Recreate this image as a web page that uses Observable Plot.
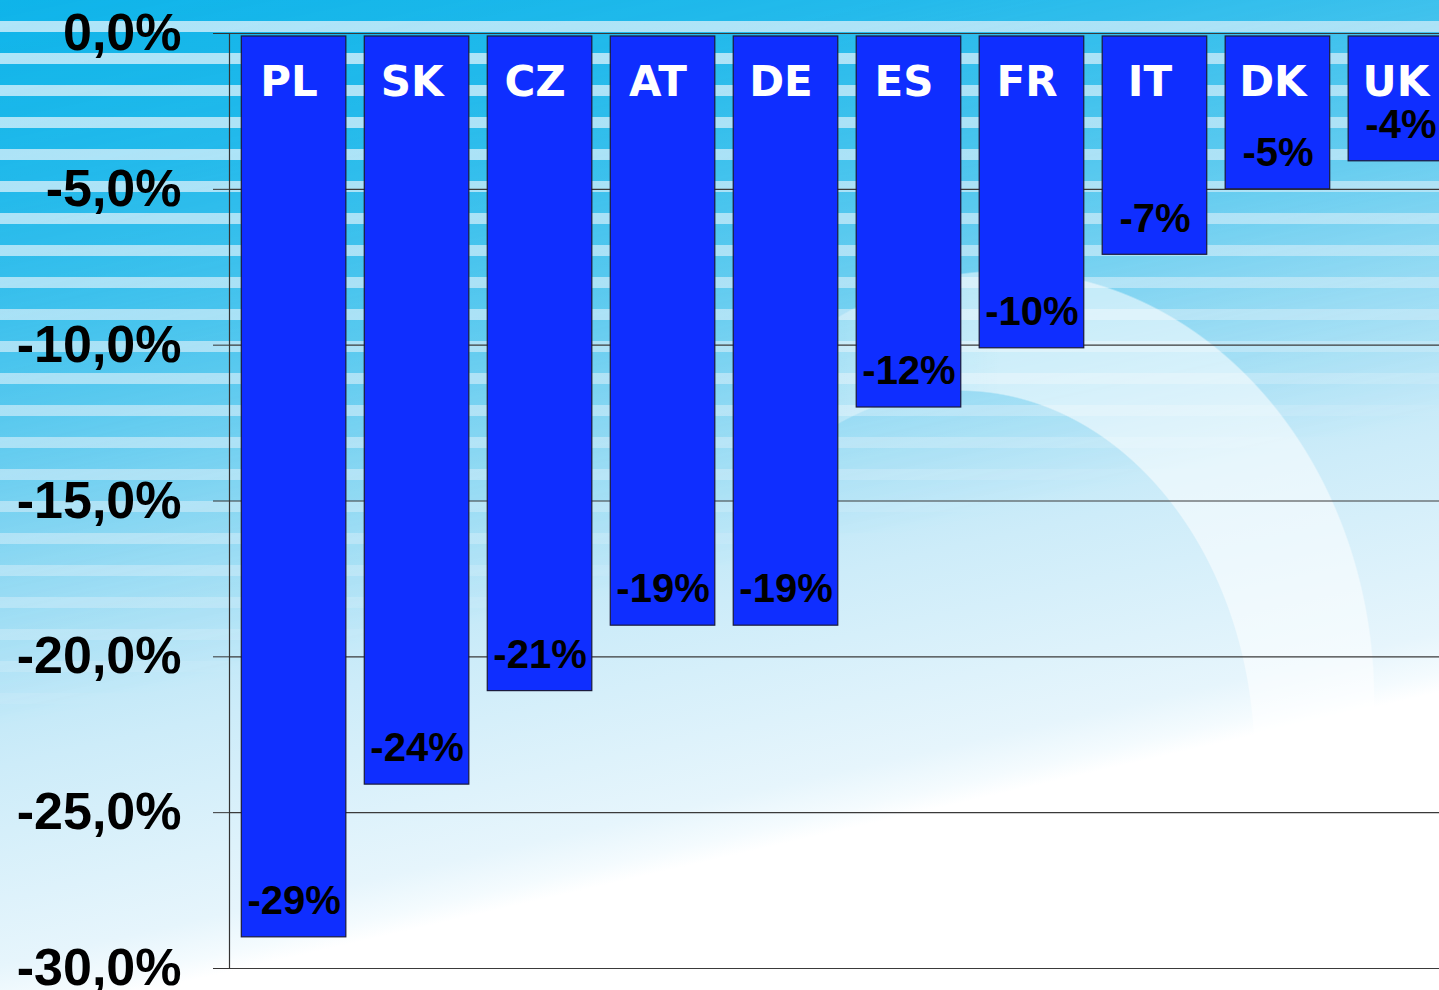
<!DOCTYPE html>
<html><head><meta charset="utf-8">
<script src="https://cdn.jsdelivr.net/npm/d3@7"></script>
<script src="https://cdn.jsdelivr.net/npm/@observablehq/plot@0.6"></script>
<style>
html,body{margin:0;padding:0;overflow:hidden;width:1439px;height:990px;background:#fff;}
#wrap{position:relative;width:1439px;height:990px;overflow:hidden;}
.layer{position:absolute;left:0;top:0;width:1439px;height:990px;}
#base{background:linear-gradient(167deg,#3cc1ee 0%,#74d0f1 22%,#a9e0f5 42%,#cdecf9 58%,#e6f5fc 73%,#f4fbfe 76%,#ffffff 77.5%,#ffffff 100%);}
#stripes{background:repeating-linear-gradient(to bottom,rgba(0,176,232,0.75) 0px,rgba(0,176,232,0.75) 21px,rgba(225,244,252,0.7) 21px,rgba(225,244,252,0.7) 32px);
  -webkit-mask-image:linear-gradient(168deg,rgba(0,0,0,1) 0%,rgba(0,0,0,0.85) 15%,rgba(0,0,0,0.5) 32%,rgba(0,0,0,0.2) 45%,rgba(0,0,0,0) 56%);
  mask-image:linear-gradient(168deg,rgba(0,0,0,1) 0%,rgba(0,0,0,0.85) 15%,rgba(0,0,0,0.5) 32%,rgba(0,0,0,0.2) 45%,rgba(0,0,0,0) 56%);}
#ring{background:linear-gradient(to right,rgba(255,255,255,0) 740px,rgba(255,255,255,0.3) 840px,rgba(255,255,255,0.55) 1000px,rgba(255,255,255,0.55) 1439px);
  -webkit-mask-image:radial-gradient(ellipse 370px 430px at 1005px 700px,#000 99.6%,transparent 100%),radial-gradient(ellipse 295px 370px at 960px 760px,#000 99.6%,transparent 100%);
  -webkit-mask-composite:xor;
  mask-image:radial-gradient(ellipse 370px 430px at 1005px 700px,#000 99.6%,transparent 100%),radial-gradient(ellipse 295px 370px at 960px 760px,#000 99.6%,transparent 100%);
  mask-composite:exclude;}
#chart svg{overflow:hidden;}
#chart text{font-weight:bold;}
</style>
</head><body>
<div id="wrap"><div class="layer" id="base"></div><div class="layer" id="stripes"></div><div class="layer" id="ring"></div><div class="layer" id="chart"></div></div>
<script>
const countries = ["PL","SK","CZ","AT","DE","ES","FR","IT","DK","UK"];
const values = [-29.0,-24.1,-21.1,-19.0,-19.0,-12.0,-10.1,-7.1,-5.0,-4.1];
const yTicks = [0,-5,-10,-15,-20,-25,-30];

const data = countries.map((c,i)=>({country:c, value:values[i]}));
const fmtTick = d => d.toFixed(1).replace(".", ",") + "%";
const fmtVal = d => Math.round(d.value) + "%";

const chart = Plot.plot({
  width: 1439,
  height: 990,
  marginTop: 33,
  marginBottom: 22,
  marginLeft: 229,
  marginRight: 0,
  style: {background: "transparent", overflow: "hidden", maxWidth: "none"},
  x: {type: "band", domain: countries, range: [229, 1465], paddingInner: 0.15, paddingOuter: 0.1, round: false, axis: null},
  y: {domain: [-30, 0], ticks: yTicks},
  marks: [
    Plot.gridY(yTicks, {stroke: "#3a3a3a", strokeOpacity: 1, strokeWidth: 1.2}),
    Plot.frame({anchor: "left", stroke: "#333", strokeWidth: 1.2}),
    Plot.axisY(yTicks, {tickSize: 16, tickPadding: 32, tickFormat: fmtTick, fontSize: 52, fontWeight: "bold",
      fontFamily: "Liberation Sans, Arial, sans-serif", fill: "#000", stroke: "#333", label: null}),
    Plot.barY(data, {x: "country", y: "value", fill: "#0f2eff", stroke: "#1a1a3a", strokeWidth: 1.2, insetTop: 3}),
    Plot.text(data, {x: "country", y: 0, text: "country", dy: 49, dx: -5, fill: "white", fontSize: 42, fontWeight: "bold",
      fontFamily: "DejaVu Sans, Verdana, sans-serif"}),
    Plot.text(data, {x: "country", y: "value", text: fmtVal, dy: -36, fill: "#000", fontSize: 40, fontWeight: "bold",
      fontFamily: "Liberation Sans, Arial, sans-serif"})
  ]
});
document.getElementById("chart").appendChild(chart);
</script>
</body></html>
